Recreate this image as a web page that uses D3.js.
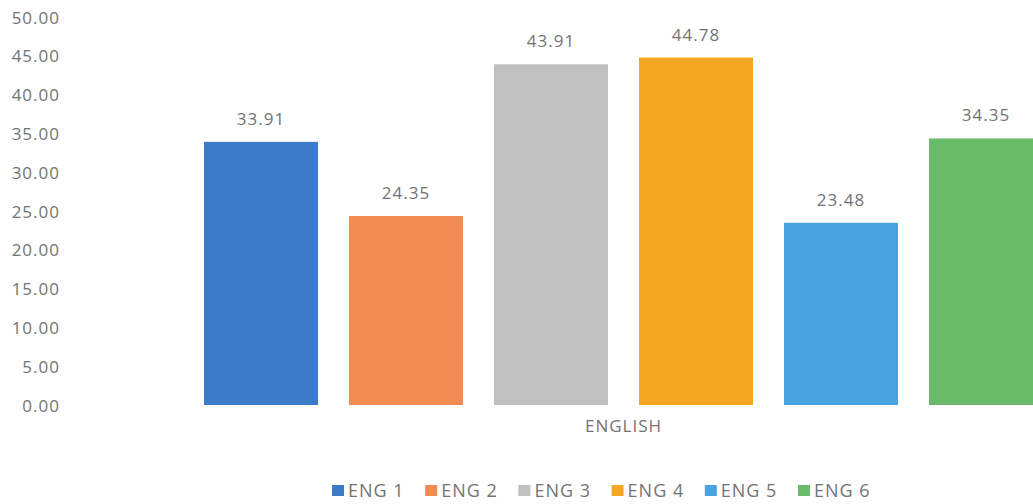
<!DOCTYPE html>
<html><head><meta charset="utf-8">
<script src="https://cdn.jsdelivr.net/npm/d3@7"></script>
<style>body{margin:0;background:#fff;}svg{display:block;}text{font-family:"Open Sans","Noto Sans",sans-serif;fill:#737373;font-size:17px;letter-spacing:1px;}</style>
</head><body>
<svg id="c" width="1033" height="504"></svg>
<script>
const category = "ENGLISH";
const series = ["ENG 1","ENG 2","ENG 3","ENG 4","ENG 5","ENG 6"];
const values = [33.91, 24.35, 43.91, 44.78, 23.48, 34.35];
const colors = ["#3b7bc8","#f08b52","#c0c0c0","#f6a623","#4aa3df","#69bb69"];
const yTicks = [0,5,10,15,20,25,30,35,40,45,50];

const svg = d3.select("#c");
const y = d3.scaleLinear().domain([0,50]).range([405,17]);
const x = d3.scaleBand().domain(series).range([188.5,1058.5]).paddingInner(0.214).paddingOuter(0.107);

const yAxis = d3.axisLeft(y).tickValues(yTicks).tickFormat(d3.format(".2f")).tickSize(0).tickPadding(0);
const ga = svg.append("g").attr("transform","translate(60,0)").call(yAxis);
ga.select(".domain").remove();
ga.attr("font-size",null).attr("font-family",null);
ga.selectAll("text").attr("fill","#737373").attr("dy","0.36em");

svg.selectAll("rect.bar").data(series).enter().append("rect").attr("class","bar")
  .attr("x",d=>x(d)).attr("width",x.bandwidth())
  .attr("y",(d,i)=>y(values[i])).attr("height",(d,i)=>y(0)-y(values[i]))
  .attr("fill",(d,i)=>colors[i]);

svg.selectAll("text.lbl").data(series).enter().append("text").attr("class","lbl")
  .attr("x",d=>x(d)+x.bandwidth()/2).attr("y",(d,i)=>y(values[i])-17)
  .attr("text-anchor","middle")
  .text((d,i)=>values[i].toFixed(2));

svg.append("text").attr("x",(x.range()[0]+x.range()[1])/2).attr("y",432)
  .attr("text-anchor","middle").text(category);

const lg = svg.selectAll("g.leg").data(series).enter().append("g").attr("class","leg")
  .attr("transform",(d,i)=>`translate(${332 + i*93.2},490)`);
lg.append("rect").attr("x",0).attr("y",-5).attr("width",12).attr("height",11).attr("fill",(d,i)=>colors[i]);
lg.append("text").attr("x",16).attr("y",7).style("font-size","18px").text(d=>d);
</script>
</body></html>
